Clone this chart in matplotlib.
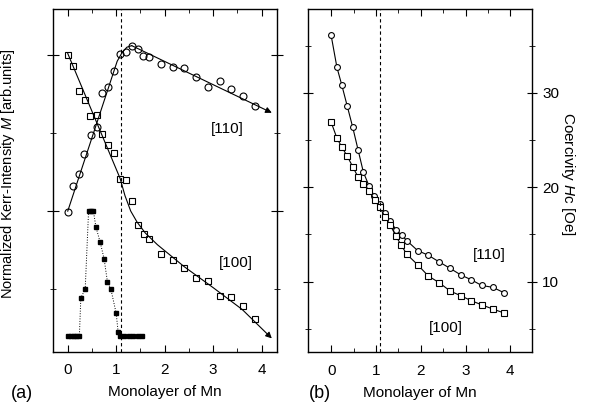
import matplotlib
matplotlib.use("Agg")
import matplotlib.pyplot as plt

plt.rcParams['font.family'] = ['Liberation Sans', 'DejaVu Sans']
plt.rcParams['mathtext.fontset'] = 'custom'
plt.rcParams['mathtext.it'] = 'Liberation Sans:italic'

# --------------------
# (a) Kerr intensity data
# --------------------
a110_x = [0.0, 0.10, 0.23, 0.34, 0.47, 0.60, 0.70, 0.84, 0.96, 1.08, 1.20, 1.32,
          1.44, 1.56, 1.68, 1.92, 2.17, 2.40, 2.65, 2.90, 3.14, 3.37, 3.61, 3.86]
a110_y = [1.99, 2.32, 2.47, 2.73, 2.98, 3.08, 3.51, 3.59, 3.79, 4.01, 4.04, 4.11,
          4.08, 3.99, 3.97, 3.89, 3.85, 3.84, 3.72, 3.59, 3.67, 3.56, 3.47, 3.35]
fit110_x = [0.0, 1.02, 1.12, 1.22, 1.32, 4.21]
fit110_y = [2.00, 3.92, 4.03, 4.10, 4.12, 3.26]

a100_x = [0.0, 0.10, 0.23, 0.36, 0.46, 0.60, 0.71, 0.84, 0.96, 1.08, 1.20, 1.32,
          1.44, 1.57, 1.68, 1.92, 2.17, 2.40, 2.64, 2.90, 3.14, 3.37, 3.61, 3.86]
a100_y = [4.00, 3.86, 3.54, 3.43, 3.22, 3.23, 2.99, 2.85, 2.74, 2.41, 2.40, 2.13,
          1.82, 1.71, 1.64, 1.45, 1.38, 1.27, 1.14, 1.11, 0.91, 0.90, 0.79, 0.62]
fit100_x = [0.0, 1.08, 1.18, 1.30, 1.43, 1.60, 1.85, 2.40, 3.00, 3.60, 4.21]
fit100_y = [4.02, 2.42, 2.20, 2.00, 1.86, 1.72, 1.57, 1.29, 1.02, 0.74, 0.37]

peak_x = [0.0, 0.06, 0.12, 0.18, 0.24, 0.27, 0.36, 0.43, 0.48, 0.53, 0.58, 0.67,
          0.75, 0.82, 0.89, 1.00, 1.04, 1.08, 1.17, 1.26, 1.35, 1.44, 1.53]
peak_y = [0.40, 0.40, 0.40, 0.40, 0.40, 0.89, 1.00, 2.00, 2.00, 2.00, 1.80, 1.60,
          1.39, 1.09, 1.00, 0.69, 0.45, 0.40, 0.40, 0.40, 0.40, 0.40, 0.40]

# --------------------
# (b) Coercivity data
# --------------------
b110_x = [0.0, 0.13, 0.24, 0.36, 0.48, 0.60, 0.72, 0.85, 0.96, 1.08, 1.20, 1.32,
          1.45, 1.58, 1.70, 1.93, 2.17, 2.41, 2.66, 2.90, 3.13, 3.36, 3.61, 3.85]
b110_y = [36.1, 32.7, 30.8, 28.6, 26.4, 24.0, 21.6, 20.1, 19.1, 18.2, 17.3, 16.4,
          15.5, 14.9, 14.3, 13.3, 12.8, 12.1, 11.4, 10.7, 10.2, 9.6, 9.4, 8.85]
b100_x = [0.0, 0.13, 0.24, 0.36, 0.48, 0.60, 0.72, 0.85, 0.97, 1.08, 1.20, 1.32,
          1.45, 1.56, 1.69, 1.93, 2.17, 2.41, 2.66, 2.90, 3.12, 3.36, 3.61, 3.85]
b100_y = [26.9, 25.2, 24.25, 23.3, 22.2, 21.1, 20.4, 19.6, 18.65, 17.9, 16.9, 16.0,
          14.8, 13.9, 12.9, 11.8, 10.6, 9.9, 9.0, 8.5, 8.0, 7.55, 7.1, 6.7]

CRIT_THICKNESS = 1.1

fig = plt.figure(figsize=(5.89, 4.07), dpi=100)

# --------------------
# Panel (a)
# --------------------
ax1 = fig.add_axes([0.0895, 0.136, 0.381, 0.842])
ax1.plot(fit110_x[:-1], fit110_y[:-1], color='black', lw=0.8)
ax1.annotate('', xy=(fit110_x[-1], fit110_y[-1]), xytext=(fit110_x[-2], fit110_y[-2]),
             arrowprops=dict(arrowstyle='-|>', color='black', lw=0.8,
                             mutation_scale=9, shrinkA=0, shrinkB=0))
ax1.plot(fit100_x[:-1], fit100_y[:-1], color='black', lw=0.8)
ax1.annotate('', xy=(fit100_x[-1], fit100_y[-1]), xytext=(fit100_x[-2], fit100_y[-2]),
             arrowprops=dict(arrowstyle='-|>', color='black', lw=0.8,
                             mutation_scale=9, shrinkA=0, shrinkB=0))
ax1.plot(a110_x, a110_y, 'o', ms=5.0, mfc='none', mec='black', mew=0.8)
ax1.plot(a100_x, a100_y, 's', ms=4.8, mfc='none', mec='black', mew=0.8)
ax1.plot(peak_x, peak_y, ls=':', color='black', lw=0.7,
         marker='s', ms=2.2, mfc='black', mec='black')
ax1.axvline(CRIT_THICKNESS, color='black', ls=(0, (3, 2.5)), lw=0.8)

ax1.text(3.3, 3.05, '[110]', fontsize=11, ha='center', va='center')
ax1.text(3.47, 1.33, '[100]', fontsize=11, ha='center', va='center')

ax1.set_xlim(-0.31, 4.32)
ax1.set_ylim(0.2, 4.59)
ax1.set_xticks([0, 1, 2, 3, 4])
ax1.set_xticks([0.5, 1.5, 2.5, 3.5], minor=True)
ax1.set_yticks([2, 4])
ax1.set_yticks([1, 3], minor=True)
ax1.set_yticklabels([])
ax1.tick_params(axis='x', which='both', direction='in', top=True, labelsize=11, pad=8)
ax1.tick_params(axis='x', which='major', length=5)
ax1.tick_params(axis='x', which='minor', length=3)
ax1.tick_params(axis='y', which='both', direction='inout', right=True)
ax1.tick_params(axis='y', which='major', length=8)
ax1.tick_params(axis='y', which='minor', length=5)
ax1.set_ylabel(r'Normalized Kerr-Intensity $M$ [arb.units]', fontsize=10.5)
ax1.yaxis.set_label_coords(-0.16, 0.52)
ax1.set_xlabel('Monolayer of Mn', fontsize=11, labelpad=6)
for sp in ax1.spines.values():
    sp.set_linewidth(1.0)

# --------------------
# Panel (b)
# --------------------
ax2 = fig.add_axes([0.5234, 0.134, 0.3803, 0.844])
ax2.plot(b110_x, b110_y, '-o', color='black', lw=0.8, ms=4.2, mfc='white', mec='black', mew=0.8)
ax2.plot(b100_x, b100_y, '-s', color='black', lw=0.8, ms=4.4, mfc='white', mec='black', mew=0.8)
ax2.axvline(CRIT_THICKNESS, color='black', ls=(0, (3, 2.5)), lw=0.8)

ax2.text(3.52, 12.8, '[110]', fontsize=11, ha='center', va='center')
ax2.text(2.56, 5.1, '[100]', fontsize=11, ha='center', va='center')

ax2.set_xlim(-0.51, 4.49)
ax2.set_ylim(2.5, 38.9)
ax2.set_xticks([0, 1, 2, 3, 4])
ax2.set_xticks([0.5, 1.5, 2.5, 3.5], minor=True)
ax2.set_yticks([10, 20, 30])
ax2.set_yticks([5, 15, 25, 35], minor=True)
ax2.yaxis.tick_right()
ax2.yaxis.set_label_position('right')
ax2.tick_params(axis='x', which='both', direction='in', top=True, labelsize=11, pad=8)
ax2.tick_params(axis='x', which='major', length=5)
ax2.tick_params(axis='x', which='minor', length=3)
ax2.tick_params(axis='y', which='both', direction='inout', left=True, right=True,
                labelleft=False, labelright=True, labelsize=11)
ax2.tick_params(axis='y', which='major', length=7)
ax2.tick_params(axis='y', which='minor', length=5)
ax2.set_ylabel(r'Coercivity $H$c [Oe]', fontsize=11, rotation=-90)
ax2.yaxis.set_label_coords(1.2, 0.52)
ax2.set_xlabel('Monolayer of Mn', fontsize=11, labelpad=6)
for sp in ax2.spines.values():
    sp.set_linewidth(1.0)

fig.text(22 / 589, 1 - 393 / 407, '(a)', fontsize=13, ha='center', va='center')
fig.text(320 / 589, 1 - 393 / 407, '(b)', fontsize=13, ha='center', va='center')

fig.savefig('out.png', dpi=100)
